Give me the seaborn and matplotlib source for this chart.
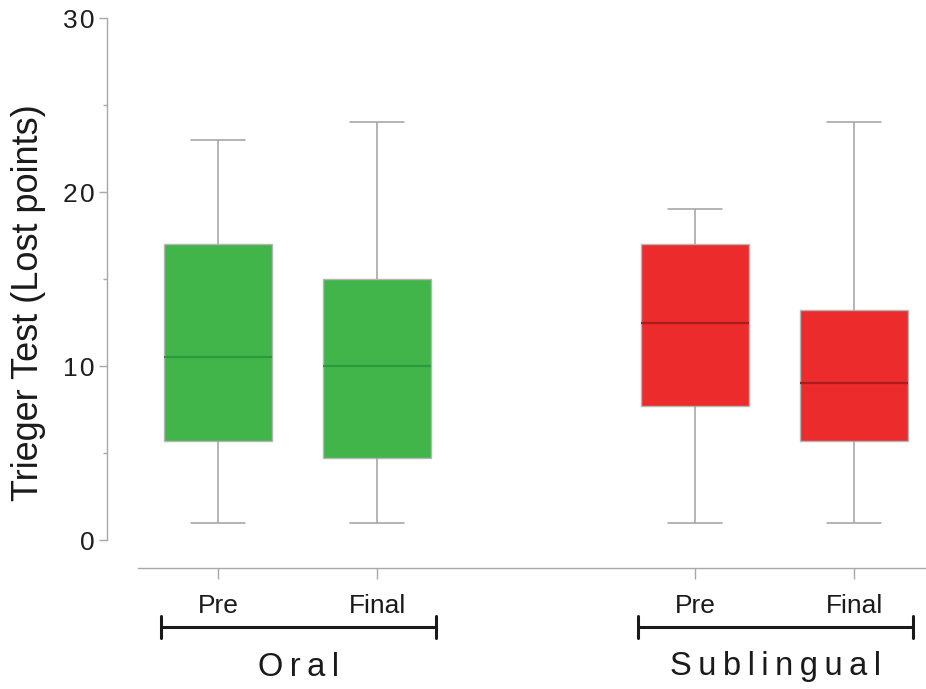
import matplotlib
matplotlib.use("Agg")
import matplotlib.pyplot as plt
import matplotlib.transforms as mtransforms
import numpy as np
import pandas as pd
import seaborn as sns

# Box summaries (lost points), one entry per box
groups = ["Oral", "Oral", "Sublingual", "Sublingual"]
times = ["Pre", "Final", "Pre", "Final"]
whisker_low = [1.0, 1.0, 1.0, 1.0]
q1 = [5.7, 4.7, 7.7, 5.7]
median = [10.5, 10.0, 12.5, 9.0]
q3 = [17.0, 15.0, 17.0, 13.2]
whisker_high = [23.0, 24.0, 19.0, 24.0]

group_colors = {"Oral": "#41b549", "Sublingual": "#ec2b2d"}
median_colors = {"Oral": "#2a9b3c", "Sublingual": "#a81e1e"}

# Five-number summaries become five observations per box; with whis=(0, 100)
# the whiskers reach min/max and the quartiles land exactly on q1/median/q3.
rows = []
for g, t, lo, a, m, b, hi in zip(groups, times, whisker_low, q1, median, q3, whisker_high):
    for v in (lo, a, m, b, hi):
        rows.append({"group": g, "time": t, "label": f"{g} {t}", "value": v})
df = pd.DataFrame(rows)

order = ["Oral Pre", "Oral Final", " ", "Sublingual Pre", "Sublingual Final"]

sns.set_style("white")
plt.rcParams["font.family"] = ["Liberation Sans", "DejaVu Sans"]

dpi = 100
fig = plt.figure(figsize=(9.26, 6.89), dpi=dpi)
W, H = 926, 689
ax = fig.add_axes([138 / W, 149 / H, (W - 138) / W, (540 - 18) / H])

for g in ["Oral", "Sublingual"]:
    sns.boxplot(
        data=df[df["group"] == g], x="label", y="value", order=order,
        color=group_colors[g], saturation=1, width=0.68, whis=(0, 100),
        showfliers=False, linecolor="#a0a0a0", linewidth=1.1,
        boxprops=dict(edgecolor="#b5b5b5", linewidth=1.0),
        medianprops=dict(color=median_colors[g], linewidth=1.6),
        ax=ax,
    )

ax.set_ylim(0, 30)
ax.set_xlim(-0.503, 4.45)
ax.set_xlabel("")
ax.set_ylabel("Trieger Test (Lost points)", fontsize=26, color="#1a1a1a")
ax.yaxis.set_label_coords(-0.117, 0.455)

# Spines: only left and bottom, pushed outward
for side in ("top", "right"):
    ax.spines[side].set_visible(False)
pt = 72 / dpi
ax.spines["left"].set_position(("outward", 31 * pt))
ax.spines["bottom"].set_position(("outward", 28 * pt))
ax.spines["left"].set_bounds(0, 30)
for side in ("left", "bottom"):
    ax.spines[side].set_color("#a8a8a8")
    ax.spines[side].set_linewidth(1.0)

ax.set_yticks([0, 10, 20, 30], ["0", "1\u200a0", "2\u200a0", "3\u200a0"])
ax.set_yticks([5, 15, 25], minor=True)
ax.tick_params(axis="y", which="major", direction="out", length=6, width=1,
               color="#a8a8a8", labelsize=19, labelcolor="#1e1e1e", pad=3, left=True)
ax.tick_params(axis="y", which="minor", direction="out", length=3, width=1,
               color="#a8a8a8", left=True)

pos = {lab: i for i, lab in enumerate(order)}
box_labels = [f"{g} {t}" for g, t in zip(groups, times)]
ax.set_xticks([pos[l] for l in box_labels], times)
ax.tick_params(axis="x", direction="out", length=8, width=1, color="#a8a8a8",
               labelsize=19, labelcolor="#1a1a1a", pad=11, bottom=True)

# Group brackets and names under the tick labels
trans = mtransforms.blended_transform_factory(ax.transData, fig.transFigure)
y_br = 1 - 627 / H
tick_h = 11 / H
for g in ["Oral", "Sublingual"]:
    xs = [pos[l] for l, gg in zip(box_labels, groups) if gg == g]
    x0, x1 = min(xs) - 0.36, max(xs) + 0.37
    ax.plot([x0, x1], [y_br, y_br], transform=trans, color="#1a1a1a", lw=2.2,
            clip_on=False, solid_capstyle="butt")
    for xe in (x0, x1):
        ax.plot([xe, xe], [y_br - tick_h, y_br + tick_h], transform=trans,
                color="#1a1a1a", lw=2.2, clip_on=False)
    ax.text((x0 + x1) / 2, 1 - 667 / H, "\u2009".join(g), transform=trans,
            ha="center", va="center", fontsize=23.5, color="#1a1a1a")

fig.savefig("out.png", dpi=dpi)
